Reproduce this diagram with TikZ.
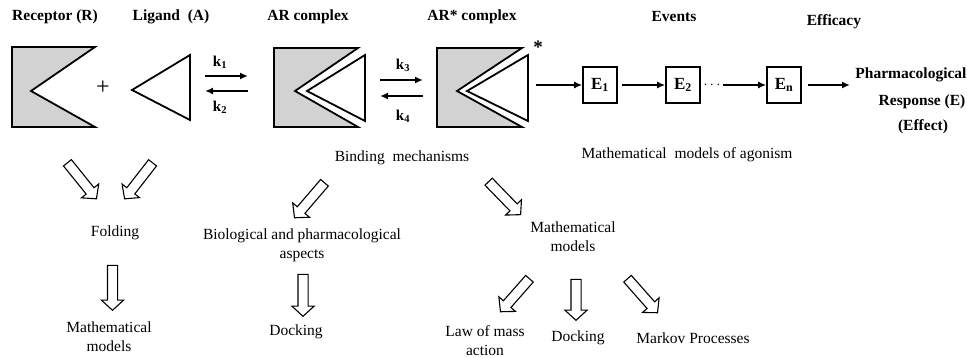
\documentclass[tikz,border=0pt]{standalone}
\usepackage{fontspec}
\setmainfont{Liberation Serif}
\usetikzlibrary{arrows.meta,shapes.arrows,calc}
\newcommand\harrow[2]{%
  \path let \p1=($(#2)-(#1)$), \n1={atan2(\y1,\x1)}, \n2={veclen(\x1,\y1)} in
    node[hollow, rotate=\n1, minimum height=\n2] at ($(#1)!0.5!(#2)$) {};}
\begin{document}
\begin{tikzpicture}[x=1pt,y=-1pt,
  title/.style={font=\fontsize{15.5}{18}\selectfont\bfseries, inner sep=0pt},
  txt/.style={font=\fontsize{15.5}{19}\selectfont, align=center, inner sep=0pt},
  blk/.style={draw, line width=1.8pt, line join=miter},
  rcp/.style={blk, fill=gray!35},
  ebox/.style={draw, line width=1.6pt, minimum width=34pt, minimum height=36pt, inner sep=0pt,
     font=\fontsize{17}{20}\selectfont\bfseries},
  rxn/.style={-{Latex[length=8pt,width=7pt]}, line width=1.6pt},
  klab/.style={font=\fontsize{15}{18}\selectfont\bfseries, inner sep=0pt},
  hollow/.style={draw, line width=1.1pt, fill=white, shape=single arrow, inner xsep=0pt,
     inner ysep=4.5pt, single arrow head extend=6pt, single arrow tip angle=95,
     single arrow head indent=0pt, line join=miter}]
\useasboundingbox (0,0) rectangle (967,358);

% titles
\node[title] (tR) at (55,17) {Receptor (R)};
\node[title] (tA) at (171,17) {Ligand\ \ (A)};
\node[title] (tAR) at (308,17) {AR complex};
\node[title] (tARs) at (472,17) {AR* complex};
\node[title] (tEv) at (674,17) {Events};
\node[title] (tEf) at (834,22) {Efficacy};

% receptor
\draw[rcp] (12,47) -- (95,47) -- (31,91) -- (95,127) -- (12,127) -- cycle;
\node[font=\fontsize{24}{24}\selectfont, inner sep=0pt] (plus) at (103,88) {+};
% ligand
\draw[blk] (132,90) -- (190,55) -- (190,120) -- cycle;

% k1 / k2
\coordinate (k1a) at (205,76); \coordinate (k1b) at (248,76);
\coordinate (k2a) at (248,91); \coordinate (k2b) at (205,91);
\draw[rxn] (k1a) -- (k1b);
\draw[rxn] (k2a) -- (k2b);
\node[klab] (k1) at (220,62) {k\textsubscript{1}};
\node[klab] (k2) at (220,107) {k\textsubscript{2}};

% AR complex
\draw[rcp] (274,48) -- (358,48) -- (295,91) -- (358,127) -- (274,127) -- cycle;
\draw[blk] (307,91) -- (365,55) -- (365,121) -- cycle;

% k3 / k4
\coordinate (k3a) at (380,80); \coordinate (k3b) at (423,80);
\coordinate (k4a) at (423,96); \coordinate (k4b) at (380,96);
\draw[rxn] (k3a) -- (k3b);
\draw[rxn] (k4a) -- (k4b);
\node[klab] (k3) at (403,65) {k\textsubscript{3}};
\node[klab] (k4) at (403,116) {k\textsubscript{4}};

% AR* complex
\draw[rcp] (437,48) -- (522,48) -- (457,91) -- (522,127) -- (437,127) -- cycle;
\draw[blk] (467,91) -- (528,55) -- (528,121) -- cycle;
\node[font=\fontsize{19}{19}\selectfont\bfseries, inner sep=0pt] (star) at (538,47) {*};

% events
\coordinate (ars) at (536,85);
\node[ebox] (e1) at (600,85) {E\textsubscript{1}};
\node[ebox] (e2) at (683,85) {E\textsubscript{2}};
\node[inner sep=0pt, font=\fontsize{14}{14}\selectfont\bfseries] (dots) at (712,85) {$\cdots$};
\node[ebox] (en) at (784,85) {E\textsubscript{n}};
\coordinate (resp) at (850,85);
\draw[rxn] (ars) -- (e1.west);
\draw[rxn, shorten <=4pt] (e1.east) -- (e2.west);
\draw[rxn, shorten <=2pt] (dots.east) -- (en.west);
\draw[rxn, shorten <=6pt] (en.east) -- (resp);
\node[title] (ph1) at (911,75) {Pharmacological};
\node[title] (ph2) at (922,102) {Response (E)};
\node[title] (ph3) at (923,127) {(Effect)};

% lower texts
\node[txt] (bind) at (402,158) {Binding\ \ mechanisms};
\node[txt] (agon) at (687,155) {Mathematical\ \ models of agonism};
\node[txt] (fold) at (115,233) {Folding};
\node[txt] (mm1) at (109,337) {Mathematical\\models};
\node[txt] (bio) at (302,245) {Biological and pharmacological\\aspects};
\node[txt] (dock1) at (296,332) {Docking};
\node[txt] (mm2) at (573,237) {Mathematical\\models};
\node[txt] (law) at (485,341) {Law of mass\\action};
\node[txt] (dock2) at (578,338) {Docking};
\node[txt] (markov) at (693,338) {Markov Processes};

% hollow arrows
\coordinate (h1a) at (66,161);  \coordinate (h1b) at (95,197);
\coordinate (h2a) at (154,161); \coordinate (h2b) at (126,197);
\coordinate (h3a) at (326,181); \coordinate (h3b) at (296,216);
\coordinate (h4a) at (487,180); \coordinate (h4b) at (519,213);
\coordinate (h5a) at (112.5,263); \coordinate (h5b) at (112.5,308);
\coordinate (h6a) at (303,272); \coordinate (h6b) at (303,314);
\coordinate (h7a) at (531,277); \coordinate (h7b) at (502,310);
\coordinate (h8a) at (576,277); \coordinate (h8b) at (576,318);
\coordinate (h9a) at (626,277); \coordinate (h9b) at (656,311);
\harrow{h1a}{h1b}
\harrow{h2a}{h2b}
\harrow{h3a}{h3b}
\harrow{h4a}{h4b}
\harrow{h5a}{h5b}
\harrow{h6a}{h6b}
\harrow{h7a}{h7b}
\harrow{h8a}{h8b}
\harrow{h9a}{h9b}
\end{tikzpicture}
\end{document}
